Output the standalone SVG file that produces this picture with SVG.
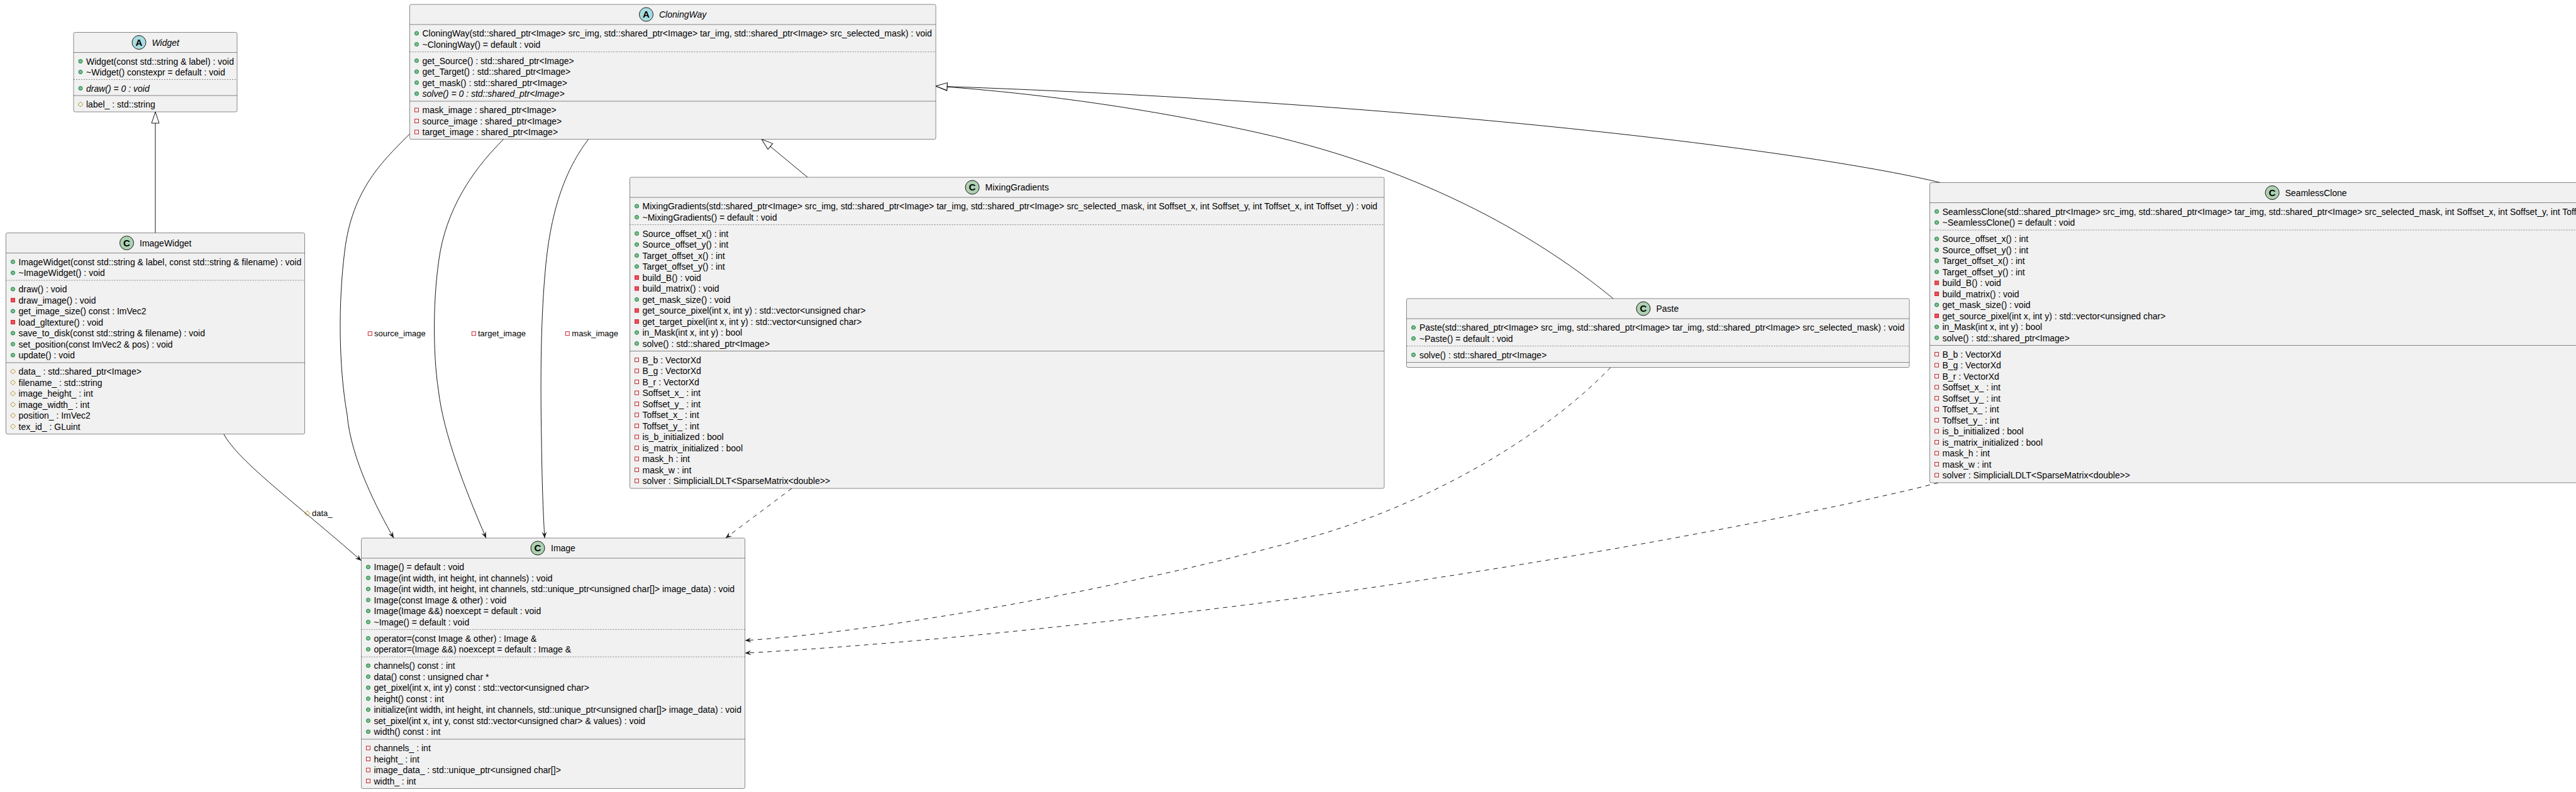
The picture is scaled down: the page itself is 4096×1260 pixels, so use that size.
<svg xmlns="http://www.w3.org/2000/svg" width="4096" height="1260" viewBox="0 0 4096 1260">
<defs>
<style>
.box{fill:#F1F1F1;stroke:#181818;stroke-width:0.5}
.sep{stroke:#181818;stroke-width:0.5}
.dsep{stroke:#181818;stroke-width:0.5;stroke-dasharray:2,2}
.t{font-family:"Liberation Sans",Arial,Helvetica,sans-serif;font-size:14px;fill:#000000}
.it{font-style:italic}
.lb{font-family:"Liberation Sans",Arial,Helvetica,sans-serif;font-size:13px;fill:#000000}
.ic{font-family:"Liberation Sans",Arial,sans-serif;font-size:15px;font-weight:bold;fill:#000000;text-anchor:middle}
.cc{fill:#ADD1B2;stroke:#181818;stroke-width:1}
.ca{fill:#A9DCDF;stroke:#181818;stroke-width:1}
.edge{fill:none;stroke:#181818;stroke-width:1}
.dash{stroke-dasharray:7,7}
</style>
<g id="pm"><circle r="3" fill="#84BE84" stroke="#038048" stroke-width="1"/></g>
<g id="vm"><rect x="-3" y="-3" width="6" height="6" fill="#F24D5C" stroke="#C82930" stroke-width="1"/></g>
<g id="vf"><rect x="-3" y="-3" width="6" height="6" fill="none" stroke="#C82930" stroke-width="1"/></g>
<g id="rf"><polygon points="0,-4 4,0 0,4 -4,0" fill="none" stroke="#B38D22" stroke-width="1"/></g>
<marker id="arr" viewBox="0 0 10 8" refX="10" refY="4" markerWidth="10" markerHeight="8" orient="auto" markerUnits="userSpaceOnUse"><path d="M0,0 L10,4 L0,8 L4,4 Z" fill="#181818"/></marker>
<marker id="tri" viewBox="0 0 20 14" refX="19" refY="7" markerWidth="20" markerHeight="14" orient="auto" markerUnits="userSpaceOnUse"><path d="M1,1 L19,7 L1,13 Z" fill="#FFFFFF" stroke="#181818" stroke-width="1"/></marker>
</defs>
<rect x="0" y="0" width="4096" height="1260" fill="#FFFFFF"/>

<g id="connectors">
<path class="edge" d="M247,370.5 L247,178" marker-end="url(#tri)"/>
<path class="edge" d="M1284,282 L1211,221.5" marker-end="url(#tri)"/>
<path class="edge" d="M2565,475 C2480,405 2300,278 2000,211 C1800,167 1620,146 1488,137" marker-end="url(#tri)"/>
<path class="edge" d="M3085,290.5 C2900,245 2300,165 1488,137" marker-end="url(#tri)"/>
<path class="edge" d="M651.5,213 C610,255 560,300 548,400 C538,480 538,580 552,660 C558,730 600,810 626,856" marker-end="url(#arr)"/>
<path class="edge" d="M800.7,221.5 C760,262 715,320 700,400 C688,470 688,560 697,620 C705,690 740,780 773,856" marker-end="url(#arr)"/>
<path class="edge" d="M935.6,221.5 C905,262 878,320 868,420 C860,500 859,600 861,700 C862,780 864,820 866,856" marker-end="url(#arr)"/>
<path class="edge" d="M355.7,690.5 C380,735 470,800 574.5,892" marker-end="url(#arr)"/>
<path class="edge dash" d="M1259,777 L1153.7,856" marker-end="url(#arr)"/>
<path class="edge dash" d="M2561,584.5 C2470,680 2300,790 2100,850 C1800,935 1400,1005 1184.5,1019" marker-end="url(#arr)"/>
<path class="edge dash" d="M3082,768 C3000,790 2600,880 2000,960 C1600,1010 1350,1030 1184.5,1039" marker-end="url(#arr)"/>
<use href="#vf" x="588.3" y="530.7"/><text class="lb" x="595" y="535.3">source_image</text>
<use href="#vf" x="753.3" y="530.7"/><text class="lb" x="760" y="535.3">target_image</text>
<use href="#vf" x="902.3" y="530.7"/><text class="lb" x="909.3" y="535.3">mask_image</text>
<use href="#rf" x="488.7" y="816.7"/><text class="lb" x="496" y="821.3">data_</text>
</g>

<g id="Widget">
<rect class="box" x="117" y="51.5" width="260" height="126.5" rx="2.5"/>
<circle class="ca" cx="221" cy="67.5" r="11"/>
<text class="ic" x="221" y="72.8">A</text>
<text class="t it" x="241.5" y="72.5">Widget</text>
<line class="sep" x1="117" y1="83.5" x2="377" y2="83.5"/>
<use href="#pm" x="128" y="97.5"/><text class="t" x="137" y="102.5">Widget(const std::string &amp; label) : void</text>
<use href="#pm" x="128" y="114.5"/><text class="t" x="137" y="119.5">~Widget() constexpr = default : void</text>
<line class="dsep" x1="117" y1="126.5" x2="377" y2="126.5"/>
<use href="#pm" x="128" y="140.5"/><text class="t it" x="137" y="145.5">draw() = 0 : void</text>
<line class="sep" x1="117" y1="152" x2="377" y2="152"/>
<use href="#rf" x="128" y="166"/><text class="t" x="137" y="171">label_ : std::string</text>
</g>

<g id="CloningWay">
<rect class="box" x="651.5" y="7" width="836.5" height="214.5" rx="2.5"/>
<circle class="ca" cx="1027.5" cy="23" r="11"/>
<text class="ic" x="1027.5" y="28.3">A</text>
<text class="t it" x="1048" y="28">CloningWay</text>
<line class="sep" x1="651.5" y1="39" x2="1488" y2="39"/>
<use href="#pm" x="662.5" y="53"/><text class="t" x="671.5" y="58">CloningWay(std::shared_ptr&lt;Image&gt; src_img, std::shared_ptr&lt;Image&gt; tar_img, std::shared_ptr&lt;Image&gt; src_selected_mask) : void</text>
<use href="#pm" x="662.5" y="70.5"/><text class="t" x="671.5" y="75.5">~CloningWay() = default : void</text>
<line class="dsep" x1="651.5" y1="82.5" x2="1488" y2="82.5"/>
<use href="#pm" x="662.5" y="96.5"/><text class="t" x="671.5" y="101.5">get_Source() : std::shared_ptr&lt;Image&gt;</text>
<use href="#pm" x="662.5" y="114"/><text class="t" x="671.5" y="119">get_Target() : std::shared_ptr&lt;Image&gt;</text>
<use href="#pm" x="662.5" y="131.5"/><text class="t" x="671.5" y="136.5">get_mask() : std::shared_ptr&lt;Image&gt;</text>
<use href="#pm" x="662.5" y="149"/><text class="t it" x="671.5" y="154">solve() = 0 : std::shared_ptr&lt;Image&gt;</text>
<line class="sep" x1="651.5" y1="161" x2="1488" y2="161"/>
<use href="#vf" x="662.5" y="175"/><text class="t" x="671.5" y="180">mask_image : shared_ptr&lt;Image&gt;</text>
<use href="#vf" x="662.5" y="192.5"/><text class="t" x="671.5" y="197.5">source_image : shared_ptr&lt;Image&gt;</text>
<use href="#vf" x="662.5" y="210"/><text class="t" x="671.5" y="215">target_image : shared_ptr&lt;Image&gt;</text>
</g>

<g id="ImageWidget">
<rect class="box" x="9.5" y="370.5" width="475" height="320" rx="2.5"/>
<circle class="cc" cx="201.5" cy="386.5" r="11"/>
<text class="ic" x="201.5" y="391.8">C</text>
<text class="t" x="222" y="391.5">ImageWidget</text>
<line class="sep" x1="9.5" y1="402.5" x2="484.5" y2="402.5"/>
<use href="#pm" x="20.5" y="416.5"/><text class="t" x="29.5" y="421.5">ImageWidget(const std::string &amp; label, const std::string &amp; filename) : void</text>
<use href="#pm" x="20.5" y="434"/><text class="t" x="29.5" y="439">~ImageWidget() : void</text>
<line class="dsep" x1="9.5" y1="446" x2="484.5" y2="446"/>
<use href="#pm" x="20.5" y="460"/><text class="t" x="29.5" y="465">draw() : void</text>
<use href="#vm" x="20.5" y="477.5"/><text class="t" x="29.5" y="482.5">draw_image() : void</text>
<use href="#pm" x="20.5" y="495"/><text class="t" x="29.5" y="500">get_image_size() const : ImVec2</text>
<use href="#vm" x="20.5" y="512.5"/><text class="t" x="29.5" y="517.5">load_gltexture() : void</text>
<use href="#pm" x="20.5" y="530"/><text class="t" x="29.5" y="535">save_to_disk(const std::string &amp; filename) : void</text>
<use href="#pm" x="20.5" y="547.5"/><text class="t" x="29.5" y="552.5">set_position(const ImVec2 &amp; pos) : void</text>
<use href="#pm" x="20.5" y="565"/><text class="t" x="29.5" y="570">update() : void</text>
<line class="sep" x1="9.5" y1="577" x2="484.5" y2="577"/>
<use href="#rf" x="20.5" y="591"/><text class="t" x="29.5" y="596">data_ : std::shared_ptr&lt;Image&gt;</text>
<use href="#rf" x="20.5" y="608.5"/><text class="t" x="29.5" y="613.5">filename_ : std::string</text>
<use href="#rf" x="20.5" y="626"/><text class="t" x="29.5" y="631">image_height_ : int</text>
<use href="#rf" x="20.5" y="643.5"/><text class="t" x="29.5" y="648.5">image_width_ : int</text>
<use href="#rf" x="20.5" y="661"/><text class="t" x="29.5" y="666">position_ : ImVec2</text>
<use href="#rf" x="20.5" y="678.5"/><text class="t" x="29.5" y="683.5">tex_id_ : GLuint</text>
</g>

<g id="MixingGradients">
<rect class="box" x="1001.5" y="282" width="1199.5" height="495" rx="2.5"/>
<circle class="cc" cx="1546" cy="298" r="11"/>
<text class="ic" x="1546" y="303.3">C</text>
<text class="t" x="1566.5" y="303">MixingGradients</text>
<line class="sep" x1="1001.5" y1="314" x2="2201" y2="314"/>
<use href="#pm" x="1012.5" y="328"/><text class="t" x="1021.5" y="333">MixingGradients(std::shared_ptr&lt;Image&gt; src_img, std::shared_ptr&lt;Image&gt; tar_img, std::shared_ptr&lt;Image&gt; src_selected_mask, int Soffset_x, int Soffset_y, int Toffset_x, int Toffset_y) : void</text>
<use href="#pm" x="1012.5" y="345.5"/><text class="t" x="1021.5" y="350.5">~MixingGradients() = default : void</text>
<line class="dsep" x1="1001.5" y1="357.5" x2="2201" y2="357.5"/>
<use href="#pm" x="1012.5" y="371.5"/><text class="t" x="1021.5" y="376.5">Source_offset_x() : int</text>
<use href="#pm" x="1012.5" y="389"/><text class="t" x="1021.5" y="394">Source_offset_y() : int</text>
<use href="#pm" x="1012.5" y="406.5"/><text class="t" x="1021.5" y="411.5">Target_offset_x() : int</text>
<use href="#pm" x="1012.5" y="424"/><text class="t" x="1021.5" y="429">Target_offset_y() : int</text>
<use href="#vm" x="1012.5" y="441.5"/><text class="t" x="1021.5" y="446.5">build_B() : void</text>
<use href="#vm" x="1012.5" y="459"/><text class="t" x="1021.5" y="464">build_matrix() : void</text>
<use href="#pm" x="1012.5" y="476.5"/><text class="t" x="1021.5" y="481.5">get_mask_size() : void</text>
<use href="#vm" x="1012.5" y="494"/><text class="t" x="1021.5" y="499">get_source_pixel(int x, int y) : std::vector&lt;unsigned char&gt;</text>
<use href="#vm" x="1012.5" y="511.5"/><text class="t" x="1021.5" y="516.5">get_target_pixel(int x, int y) : std::vector&lt;unsigned char&gt;</text>
<use href="#pm" x="1012.5" y="529"/><text class="t" x="1021.5" y="534">in_Mask(int x, int y) : bool</text>
<use href="#pm" x="1012.5" y="546.5"/><text class="t" x="1021.5" y="551.5">solve() : std::shared_ptr&lt;Image&gt;</text>
<line class="sep" x1="1001.5" y1="558.5" x2="2201" y2="558.5"/>
<use href="#vf" x="1012.5" y="572.5"/><text class="t" x="1021.5" y="577.5">B_b : VectorXd</text>
<use href="#vf" x="1012.5" y="590"/><text class="t" x="1021.5" y="595">B_g : VectorXd</text>
<use href="#vf" x="1012.5" y="607.5"/><text class="t" x="1021.5" y="612.5">B_r : VectorXd</text>
<use href="#vf" x="1012.5" y="625"/><text class="t" x="1021.5" y="630">Soffset_x_ : int</text>
<use href="#vf" x="1012.5" y="642.5"/><text class="t" x="1021.5" y="647.5">Soffset_y_ : int</text>
<use href="#vf" x="1012.5" y="660"/><text class="t" x="1021.5" y="665">Toffset_x_ : int</text>
<use href="#vf" x="1012.5" y="677.5"/><text class="t" x="1021.5" y="682.5">Toffset_y_ : int</text>
<use href="#vf" x="1012.5" y="695"/><text class="t" x="1021.5" y="700">is_b_initialized : bool</text>
<use href="#vf" x="1012.5" y="712.5"/><text class="t" x="1021.5" y="717.5">is_matrix_initialized : bool</text>
<use href="#vf" x="1012.5" y="730"/><text class="t" x="1021.5" y="735">mask_h : int</text>
<use href="#vf" x="1012.5" y="747.5"/><text class="t" x="1021.5" y="752.5">mask_w : int</text>
<use href="#vf" x="1012.5" y="765"/><text class="t" x="1021.5" y="770">solver : SimplicialLDLT&lt;SparseMatrix&lt;double&gt;&gt;</text>
</g>

<g id="Paste">
<rect class="box" x="2236.5" y="475" width="799.5" height="109.5" rx="2.5"/>
<circle class="cc" cx="2613" cy="491" r="11"/>
<text class="ic" x="2613" y="496.3">C</text>
<text class="t" x="2633.5" y="496">Paste</text>
<line class="sep" x1="2236.5" y1="507" x2="3036" y2="507"/>
<use href="#pm" x="2247.5" y="521"/><text class="t" x="2257" y="526">Paste(std::shared_ptr&lt;Image&gt; src_img, std::shared_ptr&lt;Image&gt; tar_img, std::shared_ptr&lt;Image&gt; src_selected_mask) : void</text>
<use href="#pm" x="2247.5" y="538.5"/><text class="t" x="2257" y="543.5">~Paste() = default : void</text>
<line class="dsep" x1="2236.5" y1="550.5" x2="3036" y2="550.5"/>
<use href="#pm" x="2247.5" y="564.5"/><text class="t" x="2257" y="569.5">solve() : std::shared_ptr&lt;Image&gt;</text>
<line class="sep" x1="2236.5" y1="576.5" x2="3036" y2="576.5"/>
</g>

<g id="SeamlessClone">
<rect class="box" x="3068.5" y="290.5" width="1197.5" height="477.5" rx="2.5"/>
<circle class="cc" cx="3613" cy="306.5" r="11"/>
<text class="ic" x="3613" y="311.8">C</text>
<text class="t" x="3633.5" y="311.5">SeamlessClone</text>
<line class="sep" x1="3068.5" y1="322.5" x2="4266" y2="322.5"/>
<use href="#pm" x="3079.5" y="336.5"/><text class="t" x="3088.5" y="341.5">SeamlessClone(std::shared_ptr&lt;Image&gt; src_img, std::shared_ptr&lt;Image&gt; tar_img, std::shared_ptr&lt;Image&gt; src_selected_mask, int Soffset_x, int Soffset_y, int Toffset_x, int Toffset_y) : void</text>
<use href="#pm" x="3079.5" y="354"/><text class="t" x="3088.5" y="359">~SeamlessClone() = default : void</text>
<line class="dsep" x1="3068.5" y1="366" x2="4266" y2="366"/>
<use href="#pm" x="3079.5" y="380"/><text class="t" x="3088.5" y="385">Source_offset_x() : int</text>
<use href="#pm" x="3079.5" y="397.5"/><text class="t" x="3088.5" y="402.5">Source_offset_y() : int</text>
<use href="#pm" x="3079.5" y="415"/><text class="t" x="3088.5" y="420">Target_offset_x() : int</text>
<use href="#pm" x="3079.5" y="432.5"/><text class="t" x="3088.5" y="437.5">Target_offset_y() : int</text>
<use href="#vm" x="3079.5" y="450"/><text class="t" x="3088.5" y="455">build_B() : void</text>
<use href="#vm" x="3079.5" y="467.5"/><text class="t" x="3088.5" y="472.5">build_matrix() : void</text>
<use href="#pm" x="3079.5" y="485"/><text class="t" x="3088.5" y="490">get_mask_size() : void</text>
<use href="#vm" x="3079.5" y="502.5"/><text class="t" x="3088.5" y="507.5">get_source_pixel(int x, int y) : std::vector&lt;unsigned char&gt;</text>
<use href="#pm" x="3079.5" y="520"/><text class="t" x="3088.5" y="525">in_Mask(int x, int y) : bool</text>
<use href="#pm" x="3079.5" y="537.5"/><text class="t" x="3088.5" y="542.5">solve() : std::shared_ptr&lt;Image&gt;</text>
<line class="sep" x1="3068.5" y1="549.5" x2="4266" y2="549.5"/>
<use href="#vf" x="3079.5" y="563.5"/><text class="t" x="3088.5" y="568.5">B_b : VectorXd</text>
<use href="#vf" x="3079.5" y="581"/><text class="t" x="3088.5" y="586">B_g : VectorXd</text>
<use href="#vf" x="3079.5" y="598.5"/><text class="t" x="3088.5" y="603.5">B_r : VectorXd</text>
<use href="#vf" x="3079.5" y="616"/><text class="t" x="3088.5" y="621">Soffset_x_ : int</text>
<use href="#vf" x="3079.5" y="633.5"/><text class="t" x="3088.5" y="638.5">Soffset_y_ : int</text>
<use href="#vf" x="3079.5" y="651"/><text class="t" x="3088.5" y="656">Toffset_x_ : int</text>
<use href="#vf" x="3079.5" y="668.5"/><text class="t" x="3088.5" y="673.5">Toffset_y_ : int</text>
<use href="#vf" x="3079.5" y="686"/><text class="t" x="3088.5" y="691">is_b_initialized : bool</text>
<use href="#vf" x="3079.5" y="703.5"/><text class="t" x="3088.5" y="708.5">is_matrix_initialized : bool</text>
<use href="#vf" x="3079.5" y="721"/><text class="t" x="3088.5" y="726">mask_h : int</text>
<use href="#vf" x="3079.5" y="738.5"/><text class="t" x="3088.5" y="743.5">mask_w : int</text>
<use href="#vf" x="3079.5" y="756"/><text class="t" x="3088.5" y="761">solver : SimplicialLDLT&lt;SparseMatrix&lt;double&gt;&gt;</text>
</g>

<g id="Image">
<rect class="box" x="574.5" y="856" width="610" height="398.5" rx="2.5"/>
<circle class="cc" cx="855" cy="872" r="11"/>
<text class="ic" x="855" y="877.3">C</text>
<text class="t" x="876" y="877">Image</text>
<line class="sep" x1="574.5" y1="888" x2="1184.5" y2="888"/>
<use href="#pm" x="585.5" y="902"/><text class="t" x="594.5" y="907">Image() = default : void</text>
<use href="#pm" x="585.5" y="919.5"/><text class="t" x="594.5" y="924.5">Image(int width, int height, int channels) : void</text>
<use href="#pm" x="585.5" y="937"/><text class="t" x="594.5" y="942">Image(int width, int height, int channels, std::unique_ptr&lt;unsigned char[]&gt; image_data) : void</text>
<use href="#pm" x="585.5" y="954.5"/><text class="t" x="594.5" y="959.5">Image(const Image &amp; other) : void</text>
<use href="#pm" x="585.5" y="972"/><text class="t" x="594.5" y="977">Image(Image &amp;&amp;) noexcept = default : void</text>
<use href="#pm" x="585.5" y="989.5"/><text class="t" x="594.5" y="994.5">~Image() = default : void</text>
<line class="dsep" x1="574.5" y1="1001.5" x2="1184.5" y2="1001.5"/>
<use href="#pm" x="585.5" y="1015.5"/><text class="t" x="594.5" y="1020.5">operator=(const Image &amp; other) : Image &amp;</text>
<use href="#pm" x="585.5" y="1033"/><text class="t" x="594.5" y="1038">operator=(Image &amp;&amp;) noexcept = default : Image &amp;</text>
<line class="dsep" x1="574.5" y1="1045" x2="1184.5" y2="1045"/>
<use href="#pm" x="585.5" y="1059"/><text class="t" x="594.5" y="1064">channels() const : int</text>
<use href="#pm" x="585.5" y="1076.5"/><text class="t" x="594.5" y="1081.5">data() const : unsigned char *</text>
<use href="#pm" x="585.5" y="1094"/><text class="t" x="594.5" y="1099">get_pixel(int x, int y) const : std::vector&lt;unsigned char&gt;</text>
<use href="#pm" x="585.5" y="1111.5"/><text class="t" x="594.5" y="1116.5">height() const : int</text>
<use href="#pm" x="585.5" y="1129"/><text class="t" x="594.5" y="1134">initialize(int width, int height, int channels, std::unique_ptr&lt;unsigned char[]&gt; image_data) : void</text>
<use href="#pm" x="585.5" y="1146.5"/><text class="t" x="594.5" y="1151.5">set_pixel(int x, int y, const std::vector&lt;unsigned char&gt; &amp; values) : void</text>
<use href="#pm" x="585.5" y="1164"/><text class="t" x="594.5" y="1169">width() const : int</text>
<line class="sep" x1="574.5" y1="1176" x2="1184.5" y2="1176"/>
<use href="#vf" x="585.5" y="1190"/><text class="t" x="594.5" y="1195">channels_ : int</text>
<use href="#vf" x="585.5" y="1207.5"/><text class="t" x="594.5" y="1212.5">height_ : int</text>
<use href="#vf" x="585.5" y="1225"/><text class="t" x="594.5" y="1230">image_data_ : std::unique_ptr&lt;unsigned char[]&gt;</text>
<use href="#vf" x="585.5" y="1242.5"/><text class="t" x="594.5" y="1247.5">width_ : int</text>
</g>
</svg>
